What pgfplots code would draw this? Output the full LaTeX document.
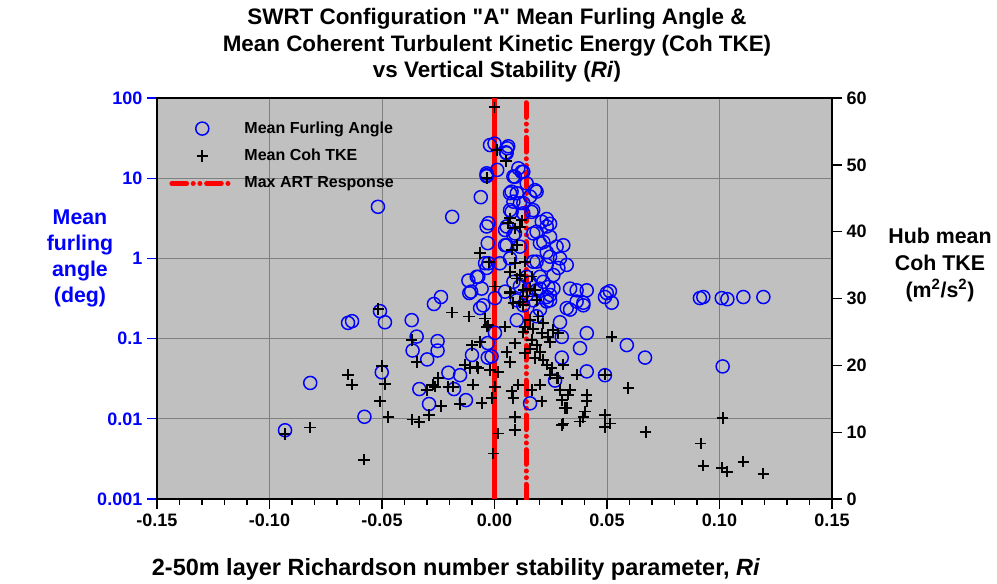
\documentclass[border=0pt]{standalone}
\usepackage{fontspec}
\setmainfont{Liberation Sans}
\newfontfamily\qfont{Liberation Sans}
\usepackage{pgfplots}
\usepackage{pgfplotstable}
\pgfplotsset{compat=1.18}
\definecolor{bgc}{RGB}{192,192,192}
\definecolor{gridc}{RGB}{128,128,128}

\pgfplotstableread{
x y
-0.0931 0.0072
-0.0819 0.028
-0.0578 0.0106
-0.0518 4.4
-0.0501 0.038
-0.0487 0.16
-0.0509 0.22
-0.0651 0.157
-0.0633 0.165
-0.0368 0.17
-0.0346 0.106
-0.0364 0.071
-0.0299 0.055
-0.0253 0.093
-0.0253 0.071
-0.0269 0.27
-0.0238 0.33
-0.0205 0.0376
-0.0153 0.035
-0.0180 0.0235
-0.0334 0.0235
-0.0291 0.0153
-0.0127 0.0171
-0.0100 0.0625
-0.0064 0.24
-0.0112 0.37
-0.0030 0.088
-0.0030 0.058
-0.0188 3.3
-0.0061 5.8
-0.0035 10.6
-0.0035 2.5
-0.0030 1.55
-0.0042 0.87
-0.0116 0.53
-0.0072 0.59
-0.0104 0.385
-0.0057 0.42
-0.0020 25.9
0.0000 27
0.0057 23.6
0.0051 21
0.0012 12.7
-0.0035 10.9
0.0106 13.3
0.0091 10.4
0.0128 12
0.0143 8.6
0.0180 7.1
0.0069 6.5
0.0084 5.1
0.0113 4.9
0.0158 5.9
0.0076 3.8
0.0128 3.65
0.0165 3.8
0.0210 2.87
0.0232 2.5
0.0047 2.26
0.0091 2.05
0.0172 2.05
0.0247 1.86
0.0202 1.55
0.0276 1.4
0.0306 1.46
0.0047 1.46
0.0113 1.4
-0.0027 0.87
0.0024 0.87
0.0069 1.0
0.0187 0.91
0.0247 1.05
0.0321 0.83
0.0284 0.76
0.0262 0.62
-0.0079 0.59
0.0143 0.59
0.0202 0.59
0.0336 0.42
0.0365 0.40
0.0410 0.40
0.0499 0.37
0.0513 0.39
0.0239 0.44
0.0002 0.32
0.0099 0.17
0.0291 0.16
0.0336 0.23
0.0395 0.28
0.0410 0.117
0.0380 0.076
0.0299 0.058
0.0299 0.105
0.0410 0.039
0.0491 0.035
0.0588 0.083
0.0669 0.058
0.0269 0.030
0.0158 0.0156
0.0002 0.118
-0.0013 0.060
0.0232 0.33
0.0247 0.30
0.0202 0.23
0.0187 0.19
0.0913 0.32
0.0928 0.33
0.0491 0.33
0.0521 0.28
0.1010 0.32
0.1035 0.31
0.1106 0.33
0.1195 0.33
0.1014 0.045
0.0054 1.46
0.0084 1.95
0.0187 2.15
0.0217 1.6
0.0232 1.2
0.0291 1.0
0.0232 0.83
0.0172 0.91
-0.0035 0.76
0.0047 0.385
0.0084 0.51
0.0217 0.51
0.0262 0.42
0.0365 0.29
0.0321 0.24
0.0395 0.26
0.0232 0.29
0.0247 0.35
0.0202 0.42
-0.0050 0.26
0.0128 0.26
0.0061 25
0.0054 20.5
0.0121 12
0.0084 10.5
-0.0035 11.5
0.0076 6.8
0.0099 6.5
0.0187 6.8
0.0128 4.9
0.0069 4.0
0.0172 4.0
0.0232 3.1
0.0247 2.7
-0.0027 2.75
0.0054 2.5
0.0113 0.45
0.0143 0.35
0.0172 0.30
0.0158 0.50
0.0099 0.30
0.0187 0.40
}\furl

\pgfplotstableread{
x y
-0.0933 9.7
-0.0819 10.7
-0.0579 5.9
-0.0651 18.6
-0.0633 17.1
-0.0516 28.4
-0.0501 19.9
-0.0487 17.2
-0.0509 14.6
-0.0472 12.3
-0.0365 11.9
-0.0334 11.5
-0.0291 12.6
-0.0238 13.9
-0.0301 16.3
-0.0264 16.8
-0.0250 18.1
-0.0272 17.1
-0.0346 20.5
-0.0368 23.8
-0.0188 27.9
-0.0113 27.3
-0.0101 23.0
-0.0064 23.5
-0.0131 20.1
-0.0109 19.6
-0.0072 19.6
-0.0205 16.8
-0.0183 16.8
-0.0097 17.1
-0.0153 14.2
-0.0057 14.4
-0.0035 25.8
0.0000 58.6
0.0010 52.2
0.0051 50.6
-0.0035 48.0
-0.0064 36.8
-0.0024 35.4
0.0002 31.8
0.0069 42.0
0.0061 41.3
0.0091 40.5
0.0113 40.7
0.0121 41.7
0.0099 38.0
0.0076 37.3
0.0091 35.3
0.0136 35.5
0.0069 34.0
0.0099 33.0
0.0113 33.5
0.0136 33.3
0.0165 33.3
0.0180 31.3
0.0158 31.5
0.0128 31.3
0.0069 31.0
0.0069 30.8
0.0084 29.3
0.0113 29.5
0.0128 29.0
0.0143 30.3
0.0187 29.8
0.0195 27.3
0.0158 26.8
0.0136 25.8
0.0128 25.0
0.0172 25.5
0.0217 26.3
0.0210 24.8
0.0239 24.3
0.0261 25.3
0.0284 24.8
0.0247 23.5
0.0165 23.8
0.0158 22.5
0.0187 23.0
0.0202 22.0
0.0180 21.1
0.0217 20.8
0.0232 20.1
0.0254 19.6
0.0247 18.6
0.0284 18.1
0.0291 16.3
0.0306 20.1
0.0336 16.3
0.0328 15.6
0.0299 14.8
0.0321 13.6
0.0276 18.1
0.0306 11.3
0.0365 18.6
0.0410 15.6
0.0410 14.6
0.0402 13.1
0.0395 12.3
0.0380 11.6
0.0491 12.6
0.0513 11.3
0.0491 10.8
0.0521 24.3
0.0595 16.6
0.0491 18.6
0.0672 10.0
0.0202 17.1
0.0165 16.3
0.0076 16.1
0.0106 17.1
0.0084 15.1
0.0210 14.6
0.0091 12.3
0.0091 10.3
0.0017 9.8
-0.0005 6.8
-0.0027 26.0
-0.0042 27.0
-0.0057 14.3
-0.0020 19.3
0.0002 16.8
-0.0013 15.1
0.0017 19.0
-0.0094 17.1
-0.0079 19.8
0.0047 25.8
0.0054 22.0
0.0069 20.5
0.0091 23.3
0.0136 21.8
0.1014 12.1
0.0916 8.3
0.0928 5.0
0.1010 4.7
0.1035 4.1
0.1106 5.6
0.1195 3.8
0.0313 13.6
0.0299 11.1
}\tke

\begin{document}
\begin{tikzpicture}
\useasboundingbox (-117.75pt,-63pt) rectangle (630pt,374.25pt);
\begin{axis}[
  at={(0,0)}, anchor=south west,
  scale only axis, width=506.25pt, height=300.75pt,
  xmin=-0.15, xmax=0.15,
  ymode=log, ymin=0.001, ymax=100,
  axis background/.style={fill=bgc},
  axis line style={black, line width=1pt},
  grid=major, major grid style={gridc, line width=0.75pt},
  xtick={-0.15,-0.10,-0.05,0,0.05,0.10,0.15},
  minor x tick num=4,
  ytick={0.001,0.01,0.1,1,10,100},
  yticklabels={0.001,0.01,0.1,1,10,100},
  yminorticks=false,
  tick pos=left,
  tick align=outside,
  major tick length=7.5pt, minor tick length=4.5pt,
  x tick style={black, line width=1pt},
  y tick style={blue, line width=1pt},
  scaled x ticks=false,
  xticklabel style={/pgf/number format/.cd, fixed, fixed zerofill, precision=2},
  /pgf/number format/assume math mode=true,
  tick label style={font=\fontsize{13.5}{16}\selectfont\bfseries},
  yticklabel style={blue},
  legend style={at={(rel axis cs:0.018,0.948)}, anchor=north west, draw=none, fill=none,
    font=\fontsize{12}{14}\selectfont\bfseries, row sep=6.5pt, inner sep=0pt,
    nodes={inner xsep=7pt}},
  legend cell align=left,
  legend image code/.code={\draw[mark repeat=2,mark phase=2,#1] plot coordinates {(0cm,0cm) (0.8cm,0cm) (1.6cm,0cm)};},
]
\addplot[only marks, mark=o, mark size=4.9pt, blue, mark options={line width=1.1pt}] table[x=x,y=y] {\furl};
\addlegendentry{Mean Furling Angle}
\addlegendimage{only marks, mark=+, mark size=4.3pt, black, mark options={line width=1.4pt}}
\addlegendentry{Mean Coh TKE}
\addplot[red, line width=4pt, forget plot] coordinates {(0,0.001) (0,100)};
\addplot[red, line width=3.75pt, line cap=round, dash pattern=on 11pt off 5pt on 0.01pt off 5pt on 0.01pt off 5pt] coordinates {(0.014,0.001) (0.014,100)};
\addlegendentry{Max ART Response}
\end{axis}
\begin{axis}[
  at={(0,0)}, anchor=south west,
  scale only axis, width=506.25pt, height=300.75pt,
  xmin=-0.15, xmax=0.15, ymin=0, ymax=60,
  axis x line=none, axis y line*=right,
  axis line style={black, line width=1pt},
  ytick={0,10,20,30,40,50,60},
  tick align=outside, major tick length=7.5pt,
  y tick style={black, line width=1pt},
  /pgf/number format/assume math mode=true,
  tick label style={font=\fontsize{13.5}{16}\selectfont\bfseries},
]
\addplot[only marks, mark=+, mark size=4.3pt, black, mark options={line width=1.4pt}] table[x=x,y=y] {\tke};
\end{axis}
\node[align=center, font=\fontsize{16.8}{20}\selectfont\bfseries] at (255pt,340.3pt)
  {SWRT Configuration {\qfont "}A{\qfont "} Mean Furling Angle \&\\Mean Coherent Turbulent Kinetic Energy (Coh TKE)\\vs Vertical Stability (\textit{Ri})};
\node[align=center, text=blue, font=\fontsize{16}{19.7}\selectfont\bfseries] at (-57.75pt,180.4pt)
  {Mean\\furling\\angle\\(deg)};
\node[align=center, font=\fontsize{16}{20.5}\selectfont\bfseries] at (587.25pt,175.5pt)
  {Hub mean\\Coh TKE\\(m\textsuperscript{2}/s\textsuperscript{2})};
\node[font=\fontsize{17.6}{20}\selectfont\bfseries] at (224.25pt,-52.5pt)
  {2-50m layer Richardson number stability parameter, \textit{Ri}};
\end{tikzpicture}
\end{document}
